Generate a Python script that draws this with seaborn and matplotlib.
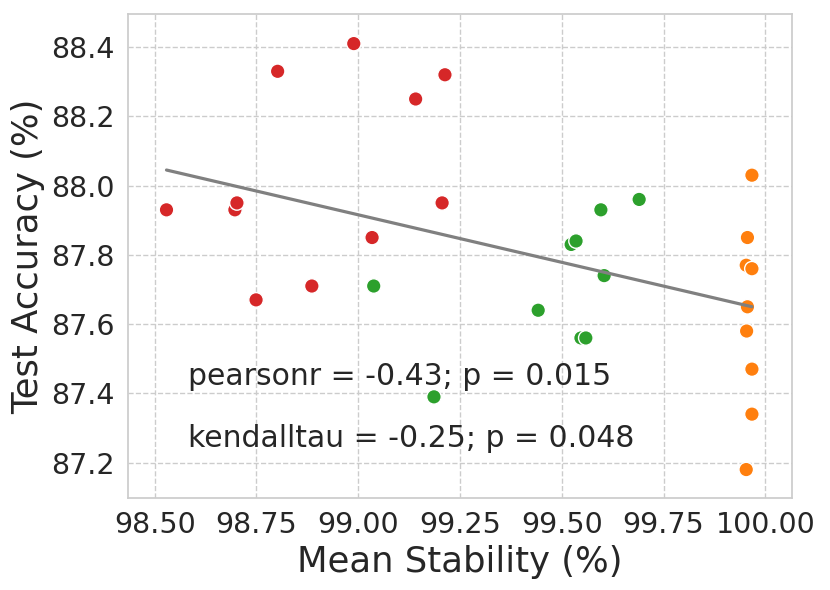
import numpy as np
import pandas as pd
import matplotlib
matplotlib.use('Agg')
import matplotlib.pyplot as plt
import seaborn as sns

# valores (estabilidad media vs precisión de test)
estab_rojo = [98.529, 98.697, 98.702, 98.802, 98.989, 99.213, 99.141, 99.206,
              99.034, 98.886, 98.749]
acc_rojo = [87.93, 87.93, 87.95, 88.33, 88.41, 88.32, 88.25, 87.95,
            87.85, 87.71, 87.67]

estab_verde = [99.038, 99.186, 99.442, 99.523, 99.535, 99.596, 99.690, 99.604,
               99.547, 99.559]
acc_verde = [87.71, 87.39, 87.64, 87.83, 87.84, 87.93, 87.96, 87.74,
             87.56, 87.56]

estab_naranja = [99.967, 99.956, 99.953, 99.967, 99.956, 99.954, 99.967, 99.967,
                 99.953]
acc_naranja = [88.03, 87.85, 87.77, 87.76, 87.65, 87.58, 87.47, 87.34, 87.18]

grupos = ['rojo', 'verde', 'naranja']
colores = {'rojo': '#d62728', 'verde': '#2ca02c', 'naranja': '#ff7f0e'}

texto_pearson = 'pearsonr = -0.43; p = 0.015'
texto_kendall = 'kendalltau = -0.25; p = 0.048'

df = pd.DataFrame({
    'estab': estab_rojo + estab_verde + estab_naranja,
    'acc': acc_rojo + acc_verde + acc_naranja,
    'grupo': ['rojo'] * len(estab_rojo) + ['verde'] * len(estab_verde)
             + ['naranja'] * len(estab_naranja),
})

sns.set_theme(style='whitegrid', rc={'grid.linestyle': '--'})

fig = plt.figure(figsize=(8.3, 5.9), dpi=100)
ax = fig.add_axes([0.154, 0.156, 0.8, 0.82])

sns.scatterplot(data=df, x='estab', y='acc', hue='grupo', hue_order=grupos,
                palette=colores, s=110, edgecolor='white', linewidth=1,
                legend=False, ax=ax)
# recta de regresión sobre todos los puntos, encima de los marcadores
sns.regplot(data=df, x='estab', y='acc', scatter=False, ci=None,
            color='gray', line_kws={'linewidth': 2.3}, ax=ax)

ax.text(0.09, 0.233, texto_pearson, transform=ax.transAxes, fontsize=21.5,
        va='baseline', color='#262626')
ax.text(0.09, 0.106, texto_kendall, transform=ax.transAxes, fontsize=21.5,
        va='baseline', color='#262626')

ax.set_xlim(98.434, 100.065)
ax.set_ylim(87.098, 88.495)
ax.set_xticks(np.arange(98.5, 100.01, 0.25))
ax.set_yticks(np.arange(87.2, 88.41, 0.2))
ax.tick_params(labelsize=20.5)
ax.set_xlabel('Mean Stability (%)', fontsize=25.5)
ax.set_ylabel('Test Accuracy (%)', fontsize=25.5)

plt.savefig('out.png', dpi=100)
plt.close()
